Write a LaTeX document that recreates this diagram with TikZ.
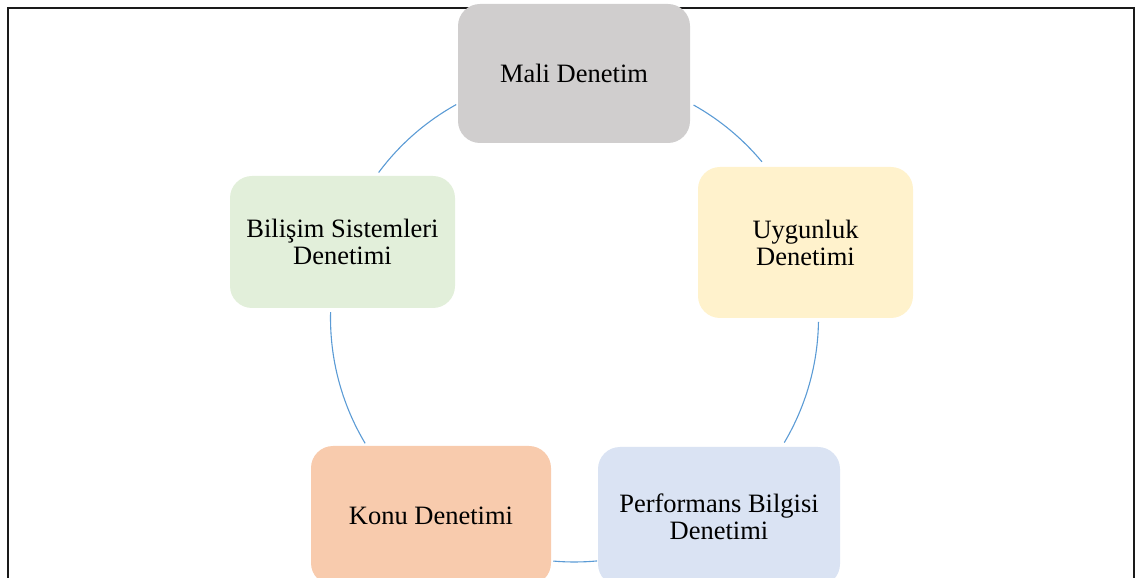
\documentclass[tikz,border=0pt]{standalone}
\usepackage{fontspec}
\setmainfont{Liberation Serif}
\usetikzlibrary{calc}

\definecolor{frameink}{HTML}{1A1A1A}
\definecolor{ringblue}{HTML}{5B9BD5}
\definecolor{fillgray}{HTML}{D0CECE}
\definecolor{fillyellow}{HTML}{FFF2CC}
\definecolor{fillblue}{HTML}{DAE3F3}
\definecolor{fillorange}{HTML}{F8CBAD}
\definecolor{fillgreen}{HTML}{E2EFDA}

\tikzset{
  auditbox/.style={draw=none, rounded corners=22pt, inner sep=0pt,
    align=center, text=black,
    font=\fontsize{26.5}{27}\selectfont},
  ring/.style={draw=ringblue, line width=1.1pt},
  frameline/.style={draw=frameink, line width=1.8pt}
}

\begin{document}
\begin{tikzpicture}[x=1pt, y=1pt]
  \useasboundingbox (0,0) rectangle (1135,578);
  \clip (0,0) rectangle (1135,578);

  % outer frame (open at the bottom)
  \draw[frameline] (8,-5) -- (8,570) -- (1134,570) -- (1134,-5);

  % centre of the cycle
  \coordinate (c) at (574.5,260);
  \def\rr{244}

  % the five audit types
  \node[auditbox, fill=fillgray, minimum width=232pt, minimum height=139pt]
    (mali) at (574,504.5) {Mali Denetim};
  \node[auditbox, fill=fillyellow, minimum width=215pt, minimum height=151pt]
    (uyg) at (805.5,335.5) {Uygunluk\\Denetimi};
  \node[auditbox, fill=fillblue, minimum width=242pt, minimum height=139pt]
    (perf) at (719,61.5) {Performans Bilgisi\\Denetimi};
  \node[auditbox, fill=fillorange, minimum width=240pt, minimum height=139pt]
    (konu) at (431,62.5) {Konu Denetimi};
  \node[auditbox, fill=fillgreen, minimum width=225pt, minimum height=132pt]
    (bilisim) at (342.5,336) {Bilişim Sistemleri\\Denetimi};

  % arcs of the cycle between neighbouring boxes
  \draw[ring] ($(c)+(60.8:\rr)$) arc[start angle=60.8, end angle=39.8, radius=\rr];
  \draw[ring] ($(c)+(-0.9:\rr)$) arc[start angle=-0.9, end angle=-30.7, radius=\rr];
  \draw[ring] ($(c)+(-84.7:\rr)$) arc[start angle=-84.7, end angle=-95.0, radius=\rr];
  \draw[ring] ($(c)+(210.9:\rr)$) arc[start angle=210.9, end angle=178.6, radius=\rr];
  \draw[ring] ($(c)+(143.4:\rr)$) arc[start angle=143.4, end angle=119.0, radius=\rr];
\end{tikzpicture}
\end{document}
